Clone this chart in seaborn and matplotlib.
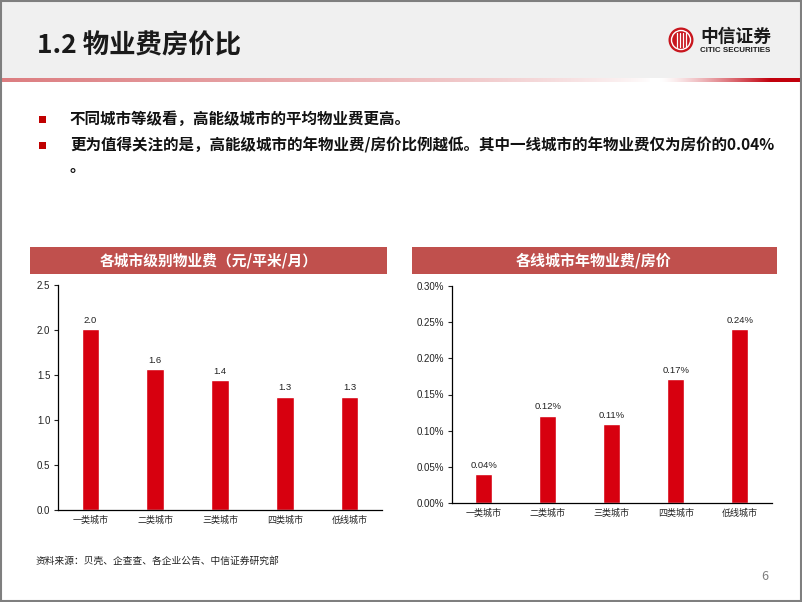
import numpy as np
import pandas as pd
import matplotlib
matplotlib.use("Agg")
import matplotlib.pyplot as plt
import seaborn as sns
from matplotlib.patches import Rectangle, Circle
from matplotlib.ticker import FuncFormatter, FixedLocator

# ---------------- data ----------------
categories = ["一类城市", "二类城市", "三类城市", "四类城市", "低线城市"]
fee_values = [2.01, 1.57, 1.44, 1.26, 1.26]            # 元/平米/月
ratio_values = [0.040, 0.121, 0.109, 0.171, 0.240]     # 年物业费/房价, %
fee_ticks = [0.0, 0.5, 1.0, 1.5, 2.0, 2.5]
ratio_ticks = [0.00, 0.05, 0.10, 0.15, 0.20, 0.25, 0.30]

page_title = "1.2 物业费房价比"
bullet_lines = [
    "不同城市等级看，高能级城市的平均物业费更高。",
    "更为值得关注的是，高能级城市的年物业费/房价比例越低。其中一线城市的年物业费仅为房价的0.04%",
]
bullet_tail = "。"
left_title = "各城市级别物业费（元/平米/月）"
right_title = "各线城市年物业费/房价"
source_text = "资料来源：贝壳、企查查、各企业公告、中信证券研究部"
page_no = "6"

# ---------------- style ----------------
sns.set_theme(style="white")
plt.rcParams['font.family'] = ['Noto Sans CJK SC', 'DejaVu Sans']
BAR_RED = "#D7000F"
BANNER = "#C0504D"
NUM_FONT = ['Liberation Sans', 'DejaVu Sans']

W, H = 802, 602
fig = plt.figure(figsize=(W / 100, H / 100), dpi=100)
fig.patch.set_facecolor("white")

# background / decoration layer in pixel coordinates
bg = fig.add_axes([0, 0, 1, 1])
bg.axis("off")
bg.add_patch(Rectangle((0, 0), W, 78, fc="#F0F0F0", ec="none"))

# gradient rule under header
xs = np.arange(W)
left_col = np.array([0.80, 0.25, 0.27])
right_col = np.array([0.76, 0.0, 0.05])
cols = np.ones((1, W, 3))
for i in range(W):
    if xs[i] < 650:
        s = 0.68 * (1 - xs[i] / 650) ** 0.7
        c = left_col
    else:
        s = min(1.0, max(0.0, (xs[i] - 660) / 110)) ** 1.3
        c = right_col
    cols[0, i] = 1 - s * (1 - c)
bg.imshow(cols, extent=(0, W, 82, 78), aspect="auto", interpolation="bilinear")

# border
bg.add_patch(Rectangle((0.8, 0.8), W - 1.6, H - 1.6, fill=False, ec="#7F7F7F", lw=1.5))

# title
bg.text(37, 46, page_title, fontsize=19, fontweight="bold", color="#1a1a1a",
        va="center", ha="left")

# logo
bg.add_patch(Circle((681, 40), 12.5, fc="#C8161E", ec="none"))
bg.add_patch(Circle((681, 40), 9.5, fill=False, ec="white", lw=1.0))
for dx in (-4.5, -1.5, 1.5, 4.5):
    bg.plot([681 + dx, 681 + dx], [33, 47], color="white", lw=0.9)
bg.text(700, 37, "中信证券", fontsize=12.8, fontweight="bold", color="#1a1a1a",
        va="center", ha="left")
bg.text(700, 51, "CITIC SECURITIES", fontsize=5.7, fontweight="bold", color="#1a1a1a",
        va="center", ha="left", family=NUM_FONT)

# bullets
for yy, line in zip([119, 145], bullet_lines):
    bg.add_patch(Rectangle((38.5, yy - 3.5), 7, 7, fc="#C00000", ec="none"))
    bg.text(70, yy, line, fontsize=11.2, fontweight="bold", color="#111111",
            va="center", ha="left")
bg.text(70, 167, bullet_tail, fontsize=11.2, fontweight="bold", color="#111111",
        va="center", ha="left")

# banners
bg.add_patch(Rectangle((30, 246.5), 357, 27, fc=BANNER, ec="none"))
bg.text(208.5, 260, left_title, fontsize=10.6, fontweight="bold", color="white",
        ha="center", va="center")
bg.add_patch(Rectangle((411.5, 246.5), 365, 27, fc=BANNER, ec="none"))
bg.text(594, 260, right_title, fontsize=10.8, fontweight="bold", color="white",
        ha="center", va="center")

# footer
bg.text(36, 561, source_text, fontsize=7, color="#222222", va="center", ha="left")
bg.text(765, 577, page_no, fontsize=9, color="#7F7F7F", va="center", ha="center")

bg.set_xlim(0, W)
bg.set_ylim(H, 0)

# ---------------- charts ----------------
df_fee = pd.DataFrame({"city": categories, "value": fee_values})
df_ratio = pd.DataFrame({"city": categories, "value": ratio_values})


def style_axes(ax):
    ax.set_xlabel("")
    ax.set_ylabel("")
    ax.set_facecolor("none")
    for s in ("top", "right"):
        ax.spines[s].set_visible(False)
    for s in ("left", "bottom"):
        ax.spines[s].set_color("black")
        ax.spines[s].set_linewidth(0.9)
    ax.tick_params(axis="y", left=True, length=3, width=0.8, direction="out",
                   pad=2.5, labelsize=7, colors="#222222", labelfontfamily="Liberation Sans")
    ax.tick_params(axis="x", bottom=False, length=0, pad=4, labelsize=6.5, colors="#222222")
    ax.set_xlim(-0.5, 4.5)
    ax.grid(False)


ax1 = fig.add_axes([58 / W, 1 - 510 / H, 324 / W, 225 / H])
sns.barplot(data=df_fee, x="city", y="value", ax=ax1, color=BAR_RED,
            saturation=1, width=0.27)
style_axes(ax1)
ax1.set_ylim(0, 2.5)
ax1.yaxis.set_major_locator(FixedLocator(fee_ticks))
ax1.yaxis.set_major_formatter(FuncFormatter(lambda v, p: f"{v:.1f}"))
ax1.bar_label(ax1.containers[0], labels=[f"{v:.1f}" for v in fee_values],
              padding=3, fontsize=6.8, color="#222222", family=NUM_FONT)

ax2 = fig.add_axes([451.7 / W, 1 - 503.3 / H, 320 / W, 217.6 / H])
sns.barplot(data=df_ratio, x="city", y="value", ax=ax2, color=BAR_RED,
            saturation=1, width=0.27)
style_axes(ax2)
ax2.set_ylim(0, 0.30)
ax2.yaxis.set_major_locator(FixedLocator(ratio_ticks))
ax2.yaxis.set_major_formatter(FuncFormatter(lambda v, p: f"{v:.2f}%"))
ax2.bar_label(ax2.containers[0], labels=[f"{v:.2f}%" for v in ratio_values],
              padding=3, fontsize=6.8, color="#222222", family=NUM_FONT)

fig.savefig("out.png", dpi=100, facecolor="white")
